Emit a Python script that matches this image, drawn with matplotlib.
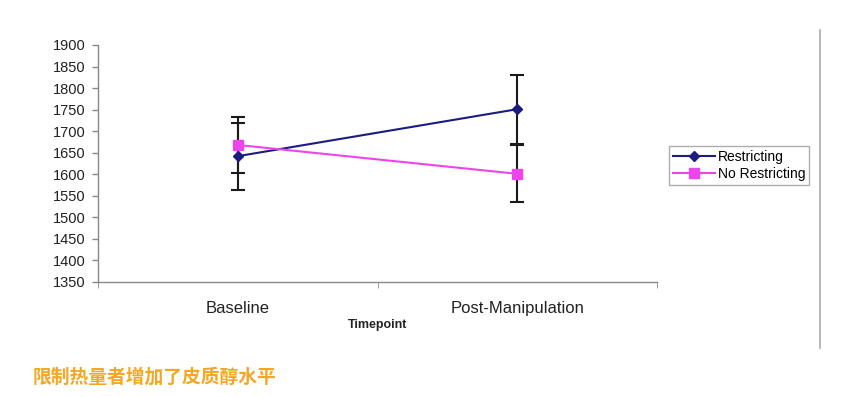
import matplotlib.pyplot as plt
from matplotlib.lines import Line2D

# =========================
# Data
# =========================
timepoints = ["Baseline", "Post-Manipulation"]
restricting = [1642, 1751]
restricting_err = [78, 80]
no_restricting = [1668, 1601]
no_restricting_err = [66, 66]
y_ticks = list(range(1350, 1901, 50))

plt.rcParams["font.family"] = ["Liberation Sans", "DejaVu Sans"]

fig = plt.figure(figsize=(8.6, 3.97), dpi=100)
ax = fig.add_axes([0.114, 0.2897, 0.650, 0.597])

x = list(range(len(timepoints)))

# error bars first so the markers sit on top
ax.errorbar(x, restricting, yerr=restricting_err, fmt="none", ecolor="#1a1a1a",
            elinewidth=1.5, capsize=5, capthick=1.5, zorder=2)
ax.errorbar(x, no_restricting, yerr=no_restricting_err, fmt="none", ecolor="#1a1a1a",
            elinewidth=1.5, capsize=5, capthick=1.5, zorder=2)

ax.plot(x, restricting, color="#1c1c80", marker="D", markersize=5.5,
        linewidth=1.5, label="Restricting", zorder=3)
ax.plot(x, no_restricting, color="#ee44ee", marker="s", markersize=7,
        linewidth=1.5, label="No Restricting", zorder=3)

# =========================
# Axes styling
# =========================
ax.set_xlim(-0.5, 1.5)
ax.set_ylim(1350, 1900)
ax.set_yticks(y_ticks)
ax.tick_params(axis="y", labelsize=10.5, colors="#888888", labelcolor="#222222",
               length=4, width=1, direction="out", pad=5)

ax.set_xticks(x)
ax.set_xticklabels(timepoints, fontsize=12, color="#222222")
ax.tick_params(axis="x", which="major", length=0, pad=14)
ax.set_xticks([-0.5, 0.5, 1.5], minor=True)
ax.tick_params(axis="x", which="minor", length=4, colors="#888888", direction="out")
ax.set_xlabel("Timepoint", fontsize=9, fontweight="bold", color="#222222", labelpad=2)

for side in ["top", "right"]:
    ax.spines[side].set_visible(False)
for side in ["left", "bottom"]:
    ax.spines[side].set_color("#888888")
    ax.spines[side].set_linewidth(1)

leg = ax.legend(loc="center left", bbox_to_anchor=(0.778, 0.583), bbox_transform=fig.transFigure,
                fontsize=10, frameon=True, fancybox=False, borderpad=0.3,
                handlelength=3, handletextpad=0.2, labelspacing=0.2, borderaxespad=0)
leg.get_frame().set_edgecolor("#999999")
leg.get_frame().set_linewidth(1)

# right-hand border of the original chart area
fig.add_artist(Line2D([0.954, 0.954], [0.123, 0.924], transform=fig.transFigure,
                      color="#aaaaaa", linewidth=1.2))

# caption
fig.text(0.038, 0.035, "限制热量者增加了皮质醇水平", fontsize=13.5, fontweight="bold",
         color="#f5a623", family=["Noto Sans CJK SC", "DejaVu Sans"])

fig.savefig("out.png", dpi=100)
